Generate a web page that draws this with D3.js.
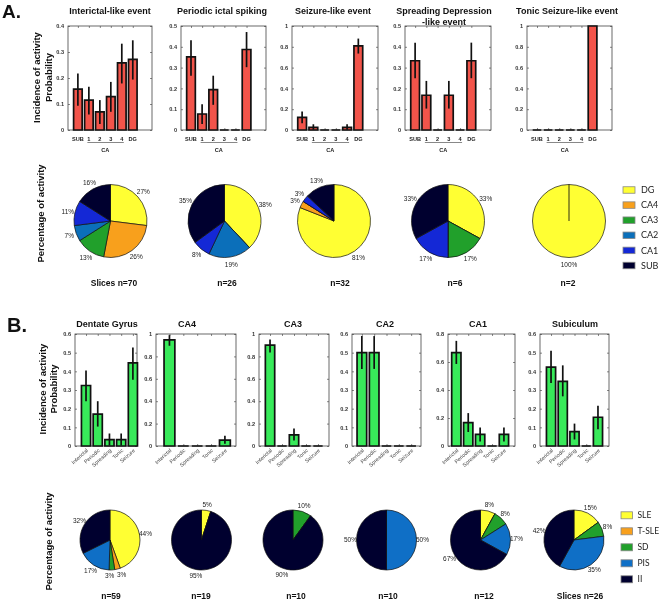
<!DOCTYPE html>
<html><head><meta charset="utf-8">
<script src="https://cdn.jsdelivr.net/npm/d3@7"></script>
<style>body{margin:0;background:#fff} svg{display:block;will-change:transform} text{-webkit-font-smoothing:antialiased}</style>
</head><body><svg id="c" width="660" height="601"></svg>
<script>
// ---------------- DATA ----------------
// Panel A: incidence per region for each event type
const regionTicks = ["SUB", "1", "2", "3", "4", "DG"];
const eventTitles = ["Interictal-like event", "Periodic ictal spiking", "Seizure-like event", "Spreading Depression|-like event", "Tonic Seizure-like event"];
const interictalProb = [0.157, 0.115, 0.07, 0.128, 0.258, 0.272];
const interictalLo   = [0.093, 0.06, 0.023, 0.07, 0.179, 0.194];
const interictalHi   = [0.217, 0.166, 0.115, 0.185, 0.332, 0.345];
const periodicProb = [0.352, 0.077, 0.194, 0, 0, 0.387];
const periodicLo   = [0.261, 0.029, 0.121, 0, 0, 0.302];
const periodicHi   = [0.432, 0.124, 0.261, 0, 0, 0.471];
const seizureProb = [0.122, 0.026, 0, 0, 0.026, 0.808];
const seizureLo   = [0.064, 0.003, 0, 0, 0.003, 0.735];
const seizureHi   = [0.178, 0.055, 0, 0, 0.055, 0.879];
const spreadingProb = [0.333, 0.167, 0, 0.167, 0, 0.333];
const spreadingLo   = [0.249, 0.103, 0, 0.103, 0, 0.249];
const spreadingHi   = [0.42, 0.236, 0, 0.236, 0, 0.42];
const tonicProb = [0, 0, 0, 0, 0, 1];
const tonicLo   = [0, 0, 0, 0, 0, 1];
const tonicHi   = [0, 0, 0, 0, 0, 1];
const topYMax  = [0.4, 0.5, 1, 0.5, 1];
const topYStep = [0.1, 0.1, 0.2, 0.1, 0.2];

// Panel A pies: percentage of each region per event type
const regionNames  = ["DG", "CA4", "CA3", "CA2", "CA1", "SUB"];
const regionColors = ["#ffff33", "#f8a01c", "#21a02b", "#0b6fba", "#1428d6", "#00002f"];
const pieInterictal = [27, 26, 13, 7, 11, 16];
const piePeriodic   = [38, 0, 0, 19, 8, 35];
const pieSeizure    = [81, 3, 0, 0, 3, 13];
const pieSpreading  = [33, 0, 17, 0, 17, 33];
const pieTonic      = [100, 0, 0, 0, 0, 0];
const topPieN = ["Slices n=70", "n=26", "n=32", "n=6", "n=2"];

// Panel B: incidence per event type for each region
const eventTicks = ["Interictal", "Periodic", "Spreading", "Tonic", "Seizure"];
const regionTitles = ["Dentate Gyrus", "CA4", "CA3", "CA2", "CA1", "Subiculum"];
const dgProb = [0.324, 0.171, 0.034, 0.034, 0.445];
const dgLo   = [0.24, 0.104, 0.003, 0.003, 0.355];
const dgHi   = [0.405, 0.24, 0.067, 0.067, 0.528];
const ca4Prob = [0.947, 0, 0, 0, 0.053];
const ca4Lo   = [0.895, 0, 0, 0, 0.02];
const ca4Hi   = [0.99, 0, 0, 0, 0.092];
const ca3Prob = [0.9, 0, 0.1, 0, 0];
const ca3Lo   = [0.835, 0, 0.048, 0, 0];
const ca3Hi   = [0.95, 0, 0.156, 0, 0];
const ca2Prob = [0.5, 0.5, 0, 0, 0];
const ca2Lo   = [0.413, 0.413, 0, 0, 0];
const ca2Hi   = [0.589, 0.589, 0, 0, 0];
const ca1Prob = [0.667, 0.167, 0.083, 0, 0.083];
const ca1Lo   = [0.586, 0.1, 0.033, 0, 0.033];
const ca1Hi   = [0.751, 0.235, 0.133, 0, 0.133];
const subProb = [0.423, 0.346, 0.077, 0, 0.154];
const subLo   = [0.338, 0.266, 0.035, 0, 0.09];
const subHi   = [0.51, 0.432, 0.12, 0, 0.216];
const botYMax  = [0.6, 1, 1, 0.6, 0.8, 0.6];
const botYStep = [0.1, 0.2, 0.2, 0.1, 0.2, 0.1];

// Panel B pies: percentage of each event type per region
const eventNames  = ["SLE", "T-SLE", "SD", "PIS", "II"];
const eventColors = ["#ffff33", "#f8a01c", "#21a02b", "#0f6fc6", "#00002f"];
const pieDG  = [44, 3, 3, 17, 32];
const pieCA4 = [5, 0, 0, 0, 95];
const pieCA3 = [0, 0, 10, 0, 90];
const pieCA2 = [0, 0, 0, 50, 50];
const pieCA1 = [8, 0, 8, 17, 67];
const pieSub = [15, 0, 8, 35, 42];
const botPieN = ["n=59", "n=19", "n=10", "n=10", "n=12", "Slices n=26"];

// ---------------- LAYOUT ----------------
const FONT = "'Liberation Sans', Arial, Helvetica, sans-serif";
const LEGFONT = "Lato, 'Open Sans', sans-serif";
const svg = d3.select("#c");

const topBoxes = [[68,152],[181,266],[292,378],[405,491],[527,612]];
const topTitleX = [110, 222, 333, 444, 567];
const topPlot = {top: 26, bottom: 130};
const botBoxes = [[75,137],[156,236],[259,329],[352,421],[448,515],[540,609]];
const botXDom = [[0.06,5.35],[0.03,5.8],[0.08,5.92],[0.2,5.8],[0.3,5.93],[0.06,5.94]];
const botTitleX = [107, 187, 293, 385, 478, 575];
const botPlot = {top: 334, bottom: 446};

const BAR_RED = "#f2544a";
const BAR_GREEN = "#38ea5a";

function barPanel(o) {
  const g = svg.append("g");
  const n = o.values.length;
  const x = d3.scaleLinear().domain(o.xDom).range([o.x0, o.x1]);
  const y = d3.scaleLinear().domain([0, o.yMax]).range([o.y1, o.y0]);
  const ticks = d3.range(0, o.yMax + 1e-9, o.yStep).map(v => +v.toFixed(3));
  const idx = d3.range(1, n + 1);
  const fmt = d => d3.format("~g")(+(+d).toFixed(3));
  const la = g.append("g").attr("transform", `translate(${o.x0},0)`)
    .call(d3.axisLeft(y).tickValues(ticks).tickSizeInner(-2).tickSizeOuter(0).tickPadding(4).tickFormat(fmt));
  const ra = g.append("g").attr("transform", `translate(${o.x1},0)`)
    .call(d3.axisRight(y).tickValues(ticks).tickSizeInner(-2).tickSizeOuter(0).tickFormat(""));
  const ba = g.append("g").attr("transform", `translate(0,${o.y1})`)
    .call(d3.axisBottom(x).tickValues(idx).tickSizeInner(-2).tickSizeOuter(0).tickFormat(""));
  const ta = g.append("g").attr("transform", `translate(0,${o.y0})`)
    .call(d3.axisTop(x).tickValues(idx).tickSizeInner(-2).tickSizeOuter(0).tickFormat(""));
  [la, ra, ba, ta].forEach(a => {
    a.select(".domain").remove();
    a.selectAll(".tick line").attr("stroke", "#555").attr("stroke-width", 0.7);
  });
  la.selectAll(".tick text").attr("font-family", FONT).attr("font-size", 5.6)
    .attr("font-weight", "bold").attr("fill", "#333");
  g.append("rect").attr("x", o.x0).attr("y", o.y0).attr("width", o.x1 - o.x0).attr("height", o.y1 - o.y0)
    .attr("fill", "none").attr("stroke", "#444").attr("stroke-width", 0.8);
  const bw = 0.78;
  g.selectAll("path.bar").data(o.values).join("path").attr("class", "bar")
    .attr("d", (v, i) => {
      const a = x(i + 1 - bw / 2), b = x(i + 1 + bw / 2);
      return `M${a},${y(0)}V${y(v)}H${b}V${y(0)}Z`;
    })
    .attr("fill", o.color).attr("stroke", "#111").attr("stroke-width", 1.7);
  g.selectAll("line.err").data(o.values.map((v, i) => ({v, lo: o.lo[i], hi: o.hi[i], i})).filter(d => d.v > 0 && d.hi > d.lo))
    .join("line").attr("class", "err")
    .attr("x1", d => x(d.i + 1)).attr("x2", d => x(d.i + 1))
    .attr("y1", d => y(d.lo)).attr("y2", d => y(d.hi))
    .attr("stroke", "#111").attr("stroke-width", 1.7);
  const lines = o.title.split("|");
  g.selectAll("text.title").data(lines).join("text").attr("class", "title")
    .attr("x", o.titleX).attr("y", (d, i) => o.titleY + i * 11)
    .attr("text-anchor", "middle").attr("font-family", FONT).attr("font-size", 9)
    .attr("font-weight", "bold").attr("fill", "#111").text(d => d);
  return {g, x, y};
}

// ---- Panel A bars ----
const topSeries = [
  [interictalProb, interictalLo, interictalHi],
  [periodicProb, periodicLo, periodicHi],
  [seizureProb, seizureLo, seizureHi],
  [spreadingProb, spreadingLo, spreadingHi],
  [tonicProb, tonicLo, tonicHi]
];
topSeries.forEach((s, k) => {
  const p = barPanel({
    x0: topBoxes[k][0], x1: topBoxes[k][1], y0: topPlot.top, y1: topPlot.bottom,
    xDom: [0.1, 7.75], yMax: topYMax[k], yStep: topYStep[k],
    values: s[0], lo: s[1], hi: s[2], color: BAR_RED,
    title: eventTitles[k], titleX: topTitleX[k], titleY: 14
  });
  p.g.selectAll("text.xt").data(regionTicks).join("text").attr("class", "xt")
    .attr("x", (d, i) => p.x(i + 1)).attr("y", 140.5).attr("text-anchor", "middle")
    .attr("font-family", FONT).attr("font-size", 5.6).attr("font-weight", "bold").attr("fill", "#222")
    .text(d => d);
  p.g.append("line").attr("x1", p.x(2) - 1.5).attr("x2", p.x(5) + 2).attr("y1", 142.5).attr("y2", 142.5)
    .attr("stroke", "#888").attr("stroke-width", 1);
  p.g.append("text").attr("x", (p.x(2) + p.x(5)) / 2).attr("y", 151.5).attr("text-anchor", "middle")
    .attr("font-family", FONT).attr("font-size", 5.6).attr("font-weight", "bold").attr("fill", "#222").text("CA");
});

// ---- Panel B bars ----
const botSeries = [
  [dgProb, dgLo, dgHi], [ca4Prob, ca4Lo, ca4Hi], [ca3Prob, ca3Lo, ca3Hi],
  [ca2Prob, ca2Lo, ca2Hi], [ca1Prob, ca1Lo, ca1Hi], [subProb, subLo, subHi]
];
botSeries.forEach((s, k) => {
  const p = barPanel({
    x0: botBoxes[k][0], x1: botBoxes[k][1], y0: botPlot.top, y1: botPlot.bottom,
    xDom: botXDom[k], yMax: botYMax[k], yStep: botYStep[k],
    values: s[0], lo: s[1], hi: s[2], color: BAR_GREEN,
    title: regionTitles[k], titleX: botTitleX[k], titleY: 327
  });
  p.g.selectAll("text.xt").data(eventTicks).join("text").attr("class", "xt")
    .attr("transform", (d, i) => `translate(${p.x(i + 1) + 1.5},${botPlot.bottom + 4}) rotate(-42)`)
    .attr("text-anchor", "end").attr("dominant-baseline", "middle")
    .attr("font-family", FONT).attr("font-size", 5.3).attr("fill", "#444")
    .text(d => d);
});

// ---- Pies ----
function pieChart(values, colors, cx, cy, r, label, labelX, labelY) {
  const g = svg.append("g").attr("transform", `translate(${cx},${cy})`);
  const arcs = d3.pie().sort(null).startAngle(0).endAngle(2 * Math.PI)(values);
  const seen = new Set();
  const drawn = arcs.filter(d => {
    if (d.value > 0) return true;
    const key = d.startAngle.toFixed(4);
    if (seen.has(key)) return false;
    seen.add(key); return true;
  });
  const arc = d3.arc().innerRadius(0).outerRadius(r);
  g.selectAll("path").data(drawn).join("path")
    .attr("d", arc).attr("fill", d => colors[d.index])
    .attr("stroke", "#111").attr("stroke-width", d => d.value > 0 ? 0.7 : 0.5).attr("stroke-linejoin", "round");
  const R = r * 1.2;
  const labs = arcs.filter(d => d.value > 0).map(d => {
    const a = (d.startAngle + d.endAngle) / 2;
    return {t: d.value + "%", x: R * Math.sin(a), y: -R * Math.cos(a)};
  });
  for (let i = 1; i < labs.length; i++) {
    const a = labs[i - 1], b = labs[i];
    if (Math.abs(a.y - b.y) < 6 && Math.abs(a.x - b.x) < 12) {
      const m = (a.x + b.x) / 2, s = a.x <= b.x ? 1 : -1;
      a.x = m - s * 6; b.x = m + s * 6;
    }
  }
  g.selectAll("text.pl").data(labs).join("text").attr("class", "pl")
    .attr("x", d => d.x).attr("y", d => d.y).attr("text-anchor", "middle").attr("dy", "0.35em")
    .attr("font-family", FONT).attr("font-size", 6.5).attr("fill", "#222").text(d => d.t);
  svg.append("text").attr("x", labelX).attr("y", labelY).attr("text-anchor", "middle")
    .attr("font-family", FONT).attr("font-size", 8.5).attr("font-weight", "bold").attr("fill", "#111").text(label);
}

const topPies = [pieInterictal, piePeriodic, pieSeizure, pieSpreading, pieTonic];
const topPieCX = [110.5, 224.5, 334, 448, 569];
const topPieNX = [114, 227, 340, 455, 568];
topPies.forEach((v, k) => pieChart(v, regionColors, topPieCX[k], 221, 36.5, topPieN[k], topPieNX[k], 286));

const botPies = [pieDG, pieCA4, pieCA3, pieCA2, pieCA1, pieSub];
const botPieCX = [110, 201.5, 293, 386.5, 480.5, 574];
const botPieNX = [111, 201, 296, 388, 484, 580];
botPies.forEach((v, k) => pieChart(v, eventColors, botPieCX[k], 540, 30, botPieN[k], botPieNX[k], 599));

// ---- Legends ----
function legend(names, colors, bx, by0, step, bw, bh, tx, fs) {
  const g = svg.append("g");
  names.forEach((nm, i) => {
    const cy = by0 + i * step;
    g.append("rect").attr("x", bx).attr("y", cy - bh / 2).attr("width", bw).attr("height", bh)
      .attr("fill", colors[i]).attr("stroke", "#888").attr("stroke-width", 0.8);
    g.append("text").attr("x", tx).attr("y", cy).attr("dy", "0.35em")
      .attr("font-family", LEGFONT).attr("font-size", fs).attr("fill", "#222").text(nm);
  });
}
legend(regionNames, regionColors, 623, 190, 15.1, 12, 6.5, 641, 9);
legend(eventNames, eventColors, 621, 515.3, 16, 11.6, 7, 637.5, 8.5);

// ---- Axis labels & panel letters ----
function vlabel(txt, x, y) {
  svg.append("text").attr("transform", `translate(${x},${y}) rotate(-90)`).attr("text-anchor", "middle")
    .attr("font-family", FONT).attr("font-size", 9.5).attr("font-weight", "bold").attr("fill", "#111").text(txt);
}
vlabel("Incidence of activity", 39.5, 77.5);
vlabel("Probability", 52, 77.5);
vlabel("Percentage of activity", 44, 213.5);
vlabel("Incidence of activity", 45.5, 389);
vlabel("Probability", 57, 389);
vlabel("Percentage of activity", 52, 541.5);

svg.append("text").attr("x", 2).attr("y", 18).attr("font-family", FONT).attr("font-size", 19)
  .attr("font-weight", "bold").attr("fill", "#111").text("A.");
svg.append("text").attr("x", 7).attr("y", 331.5).attr("font-family", FONT).attr("font-size", 20)
  .attr("font-weight", "bold").attr("fill", "#111").text("B.");
</script></body></html>
